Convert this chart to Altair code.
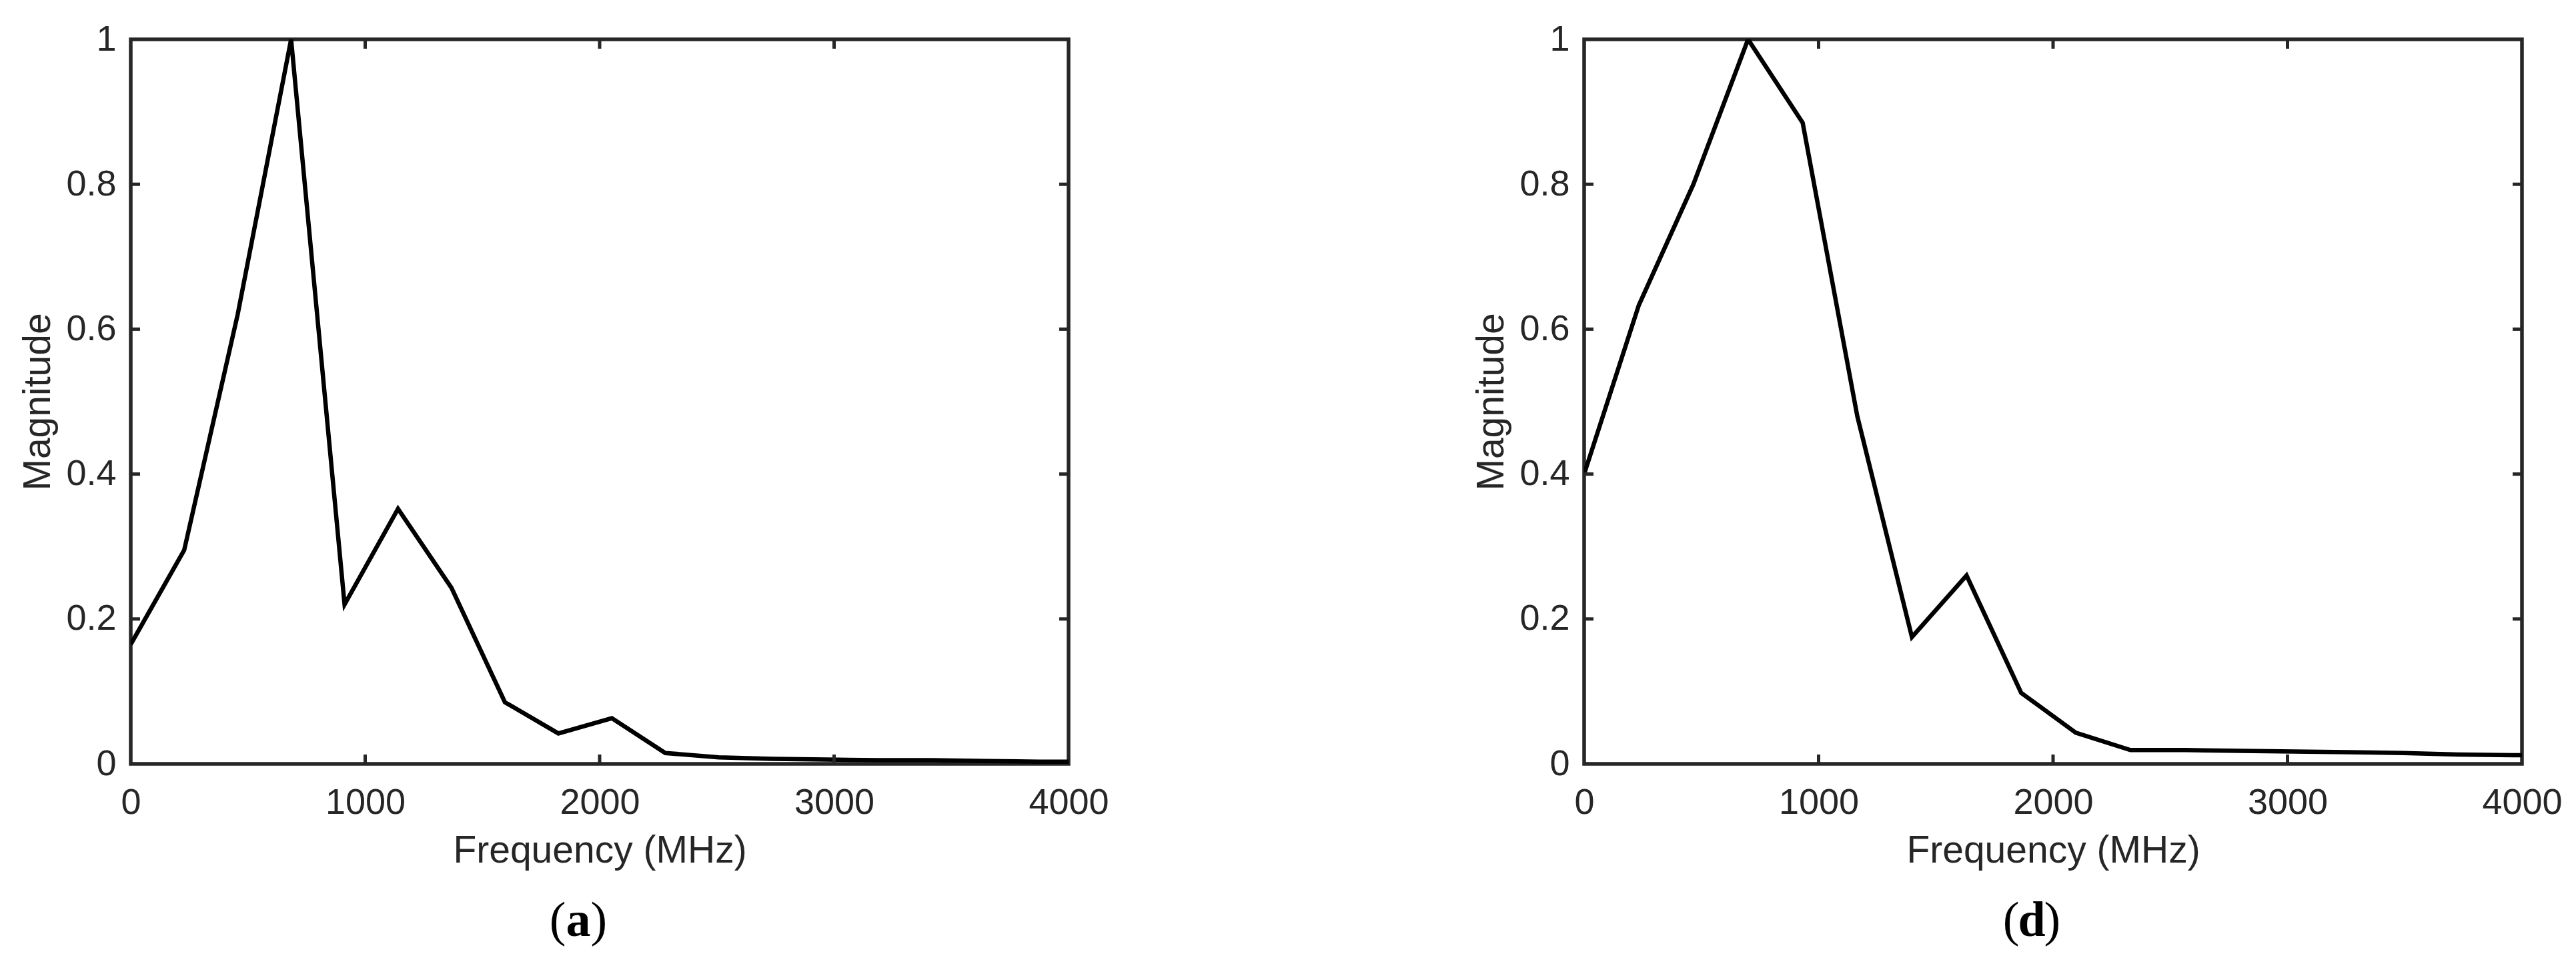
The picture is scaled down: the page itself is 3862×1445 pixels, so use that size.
import altair as alt
import pandas as pd

# ---- data ----
freq_a = [0, 228, 456, 684, 912, 1140, 1368, 1596, 1824, 2052, 2280, 2508, 2736,
          2964, 3192, 3420, 3648, 3876, 4000]
mag_a = [0.165, 0.295, 0.62, 1.0, 0.22, 0.352, 0.243, 0.085, 0.042, 0.063, 0.015,
         0.009, 0.007, 0.006, 0.005, 0.005, 0.004, 0.003, 0.003]

freq_d = [0, 233, 466, 699, 932, 1165, 1398, 1631, 1864, 2097, 2330, 2563, 2796,
          3029, 3262, 3495, 3728, 3961, 4000]
mag_d = [0.40, 0.633, 0.80, 1.0, 0.885, 0.48, 0.175, 0.26, 0.098, 0.043, 0.019,
         0.019, 0.018, 0.017, 0.016, 0.015, 0.013, 0.012, 0.012]

x_tick_values = [0, 1000, 2000, 3000, 4000]
y_tick_values = [0, 0.2, 0.4, 0.6, 0.8, 1.0]
captions = ["a", "d"]
x_title = "Frequency (MHz)"
y_title = "Magnitude"

# ---- layout constants ----
W, H = 1406, 1086
TICK = 14
AX = "#262626"
SANS = "Liberation Sans"
SERIF = "Liberation Serif"
CAP_SIZE = 74
CAP_X = 671
CAP_Y = H + 258

X_AXIS = alt.Axis(values=x_tick_values, format="d", title=x_title,
                  labelPadding=31, labelFlush=False,
                  titleY=147, titleBaseline="alphabetic")
Y_AXIS = alt.Axis(values=y_tick_values, format=".1~f", title=y_title,
                  labelPadding=22, labelFlush=False,
                  titleX=-122, titleBaseline="alphabetic")


def panel(freq, mag, cap):
    df = pd.DataFrame({"f": freq, "m": mag})
    xs = alt.Scale(domain=[0, 4000], nice=False, zero=False)
    ys = alt.Scale(domain=[0, 1], nice=False, zero=False)

    line = alt.Chart(df).mark_line(color="black", strokeWidth=6.5, clip=True,
                                   strokeJoin="miter").encode(
        x=alt.X("f:Q", scale=xs, axis=X_AXIS),
        y=alt.Y("m:Q", scale=ys, axis=Y_AXIS),
    )

    xt = pd.DataFrame({"f": [v for v in x_tick_values if 0 < v < 4000]})
    yt = pd.DataFrame({"m": [v for v in y_tick_values if 0 < v < 1]})

    rule = dict(color=AX, strokeWidth=5)
    bottom = alt.Chart(xt).mark_rule(**rule).encode(
        x=alt.X("f:Q", scale=xs, axis=X_AXIS), y=alt.value(H), y2=alt.value(H - TICK))
    top = alt.Chart(xt).mark_rule(**rule).encode(
        x=alt.X("f:Q", scale=xs, axis=X_AXIS), y=alt.value(0), y2=alt.value(TICK))
    left = alt.Chart(yt).mark_rule(**rule).encode(
        y=alt.Y("m:Q", scale=ys, axis=Y_AXIS), x=alt.value(0), x2=alt.value(TICK))
    right = alt.Chart(yt).mark_rule(**rule).encode(
        y=alt.Y("m:Q", scale=ys, axis=Y_AXIS), x=alt.value(W), x2=alt.value(W - TICK))

    half = CAP_SIZE * 0.25
    one = pd.DataFrame({"k": [0]})
    lp = alt.Chart(one).mark_text(font=SERIF, fontSize=CAP_SIZE, align="right",
                                  baseline="alphabetic", color="black").encode(
        x=alt.value(CAP_X - half), y=alt.value(CAP_Y), text=alt.value("("))
    mid = alt.Chart(one).mark_text(font=SERIF, fontSize=CAP_SIZE, fontWeight="bold",
                                   align="center", baseline="alphabetic", color="black").encode(
        x=alt.value(CAP_X), y=alt.value(CAP_Y), text=alt.value(cap))
    rp = alt.Chart(one).mark_text(font=SERIF, fontSize=CAP_SIZE, align="left",
                                  baseline="alphabetic", color="black").encode(
        x=alt.value(CAP_X + half), y=alt.value(CAP_Y), text=alt.value(")"))

    return alt.layer(line, bottom, top, left, right, lp, mid, rp).properties(width=W, height=H)


chart = alt.hconcat(
    panel(freq_a, mag_a, captions[0]),
    panel(freq_d, mag_d, captions[1]),
    spacing=539,
).properties(
    padding={"left": 17, "top": 21, "right": 0, "bottom": 0},
    background="white",
).configure_view(
    stroke=AX, strokeWidth=5.5
).configure_axis(
    domain=False, ticks=False, tickSize=0, grid=False,
    labelFont=SANS, labelFontSize=54, labelColor=AX,
    titleFont=SANS, titleFontSize=57, titleColor=AX, titleFontWeight="normal",
)

chart.save("out.html", embed_options={"renderer": "svg", "actions": False})
